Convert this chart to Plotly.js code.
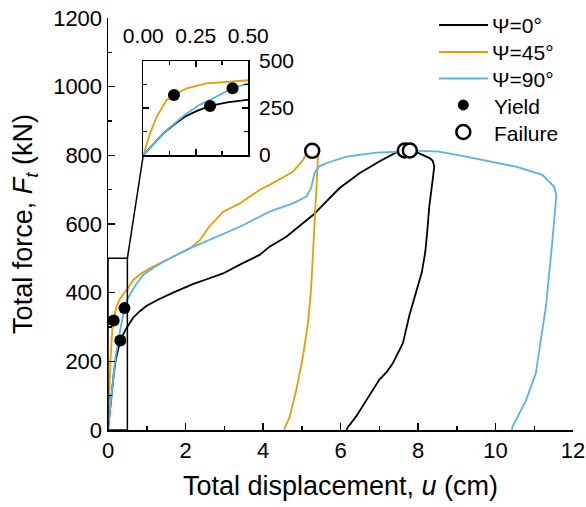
<!DOCTYPE html>
<html><head><meta charset="utf-8">
<script src="https://cdn.plot.ly/plotly-3.0.1.min.js"></script>
<style>html,body{margin:0;padding:0;background:#fff}</style>
</head><body><div id="chart" style="width:586px;height:507px"></div>
<script>
// ---- data ----
const seriesNames = ['Ψ=0°', 'Ψ=45°', 'Ψ=90°'];
const markerNames = ['Yield', 'Failure'];
const seriesColors = ['#000000', '#E69F00', '#56B4E9'];

const u0 = [0,0.05,0.1,0.15,0.2,0.25,0.318,0.4,0.5,0.65,0.82,1.0,1.3,1.68,2.19,2.62,2.97,3.48,3.91,4.17,4.6,5.29,5.97,6.49,7.0,7.43,7.66,7.85,8.0,8.12,8.3,8.38,8.42,8.38,8.34,8.29,8.24,8.19,8.1,8.0,7.9,7.78,7.61,7.45,7.35,7.2,7.0,6.67,6.4,6.19,6.15];
const f0 = [0,62,120,165,205,232,261,280,301,327,346,362,380,400,425,442,456,486,510,534,563,626,704,748,782,808,814,815,808,801,792,784,767,730,699,650,580,520,460,420,380,335,253,215,194,170,146,87,39,8,0];

const u45 = [0,0.032,0.064,0.111,0.146,0.207,0.3,0.4,0.5,0.65,0.85,1.08,1.51,2.11,2.37,2.61,2.97,3.4,3.91,4.17,4.77,5.03,5.12,5.27,5.42,5.4,5.37,5.33,5.29,5.24,5.16,5.03,4.86,4.69,4.56,4.55];
const f45 = [0,115,204,293,319,355,381,395,411,437,455,471,495,529,553,592,636,660,699,714,752,786,806,813,796,750,699,621,524,408,311,214,117,39,5,0];

const u90 = [0,0.05,0.1,0.15,0.2,0.27,0.318,0.425,0.5,0.7,0.9,1.2,1.51,2.11,2.8,3.4,3.91,4.17,4.77,5.12,5.24,5.33,5.45,5.63,6.15,6.92,7.52,7.79,8.04,8.55,9.24,9.9,10.53,11.21,11.51,11.57,11.53,11.47,11.30,11.04,10.79,10.44,10.42];
const f90 = [0,62,120,168,215,268,293,355,381,420,451,475,495,529,563,592,621,636,660,680,704,748,768,777,796,808,811,814,813,811,796,782,767,743,709,684,620,553,359,165,87,10,0];

const yieldU = [0.318, 0.146, 0.425];
const yieldF = [261, 319, 355];
const failU = [7.66, 5.27, 7.79];
const failF = [814, 813, 814];

const xTitle = 'Total displacement, <i>u</i> (cm)';
const yTitle = 'Total force, <i>F</i><sub><i>t</i></sub> (kN)';
const zoomBox = {u: 0.5, f: 500};

// ---- layout helpers ----
const FONT = 'Arial, "Liberation Sans", sans-serif';
const W = 586, H = 507, ML = 108, MR = 13, MT = 18, MB = 77;
const PW = W - ML - MR, PH = H - MT - MB;
const px2x = p => (p - ML) / PW;
const px2y = p => (H - MB - p) / PH;
const insetX = [px2x(143.3), px2x(248.3)];
const insetY = [px2y(155), px2y(61)];

const us = [u0, u45, u90], fs = [f0, f45, f90];
const traces = [];
for (let i = 0; i < 3; i++) {
  traces.push({x: us[i], y: fs[i], type: 'scatter', mode: 'lines', name: seriesNames[i],
    line: {color: seriesColors[i], width: 1.8}, xaxis: 'x', yaxis: 'y'});
}
for (let i = 0; i < 3; i++) {
  traces.push({x: us[i], y: fs[i], type: 'scatter', mode: 'lines', name: seriesNames[i],
    line: {color: seriesColors[i], width: 1.8}, xaxis: 'x2', yaxis: 'y2'});
}
traces.push({x: yieldU, y: yieldF, type: 'scatter', mode: 'markers', name: markerNames[0],
  marker: {color: '#000', size: 12}, xaxis: 'x', yaxis: 'y'});
traces.push({x: failU, y: failF, type: 'scatter', mode: 'markers', name: markerNames[1],
  marker: {color: '#fff', size: 14, line: {color: '#000', width: 2.5}}, xaxis: 'x', yaxis: 'y'});
traces.push({x: yieldU, y: yieldF, type: 'scatter', mode: 'markers', name: markerNames[0],
  marker: {color: '#000', size: 12}, xaxis: 'x2', yaxis: 'y2'});

const axCommon = {showgrid: false, zeroline: false, showline: true, linecolor: '#000', linewidth: 1.5,
  ticks: 'inside', tickcolor: '#000', tickwidth: 1.5, ticklen: 7};

// ---- hand-built legend (lines, dot, ring, labels) ----
const legRows = [25, 52, 78.5, 105, 132];
const shapes = [
  {type: 'rect', xref: 'x', yref: 'y', x0: 0, x1: zoomBox.u, y0: 0, y1: zoomBox.f,
    line: {color: '#000', width: 1.5}},
  {type: 'line', xref: 'x', yref: 'y', x0: zoomBox.u, y0: zoomBox.f,
    x1: insetX[0] * 12, y1: insetY[0] * 1200, line: {color: '#000', width: 1.5}}
];
const annotations = [];
for (let i = 0; i < 3; i++) {
  shapes.push({type: 'line', xref: 'paper', yref: 'paper', x0: px2x(439), x1: px2x(488),
    y0: px2y(legRows[i]), y1: px2y(legRows[i]), line: {color: seriesColors[i], width: 1.8}});
  annotations.push({xref: 'paper', yref: 'paper', x: px2x(490), y: px2y(legRows[i] + 1),
    xanchor: 'left', yanchor: 'middle', showarrow: false, text: seriesNames[i],
    font: {size: 21, family: FONT, color: '#000'}});
}
const lx = px2x(463.3);
shapes.push({type: 'circle', xref: 'paper', yref: 'paper', xsizemode: 'pixel', ysizemode: 'pixel',
  xanchor: lx, yanchor: px2y(legRows[3]), x0: -5, x1: 5, y0: -5, y1: 5,
  fillcolor: '#000', line: {color: '#000', width: 1}});
shapes.push({type: 'circle', xref: 'paper', yref: 'paper', xsizemode: 'pixel', ysizemode: 'pixel',
  xanchor: lx, yanchor: px2y(legRows[4]), x0: -7, x1: 7, y0: -7, y1: 7,
  fillcolor: '#fff', line: {color: '#000', width: 2.5}});
for (let j = 0; j < 2; j++) {
  annotations.push({xref: 'paper', yref: 'paper', x: px2x(491.5), y: px2y(legRows[3 + j] + 1),
    xanchor: 'left', yanchor: 'middle', showarrow: false, text: markerNames[j],
    font: {size: 21, family: FONT, color: '#000'}});
}

const layout = {
  width: W, height: H,
  margin: {l: ML, r: MR, t: MT, b: MB},
  paper_bgcolor: '#fff', plot_bgcolor: 'rgba(0,0,0,0)',
  font: {family: FONT, color: '#000', size: 22},
  showlegend: false,
  xaxis: Object.assign({}, axCommon, {range: [0, 12], dtick: 2, tick0: 0, domain: [0, 1],
    tickfont: {size: 22}, minor: {dtick: 1, ticks: 'inside', ticklen: 4, tickwidth: 1.5, tickcolor: '#000'},
    title: {text: xTitle, font: {size: 27}, standoff: 14}}),
  yaxis: Object.assign({}, axCommon, {range: [0, 1200], dtick: 200, tick0: 0, domain: [0, 1],
    tickfont: {size: 22}, minor: {dtick: 100, ticks: 'inside', ticklen: 4, tickwidth: 1.5, tickcolor: '#000'},
    title: {text: yTitle, font: {size: 27}, standoff: 12}}),
  xaxis2: Object.assign({}, axCommon, {range: [0, 0.5], dtick: 0.25, tick0: 0, tickformat: '.2f',
    domain: insetX, anchor: 'y2', side: 'top', mirror: 'allticks', ticklen: 6, ticklabelstandoff: 8,
    tickfont: {size: 21}, minor: {dtick: 0.125, ticks: 'inside', ticklen: 4, tickwidth: 1.5, tickcolor: '#000'}}),
  yaxis2: Object.assign({}, axCommon, {range: [0, 500], dtick: 250, tick0: 0,
    domain: insetY, anchor: 'x2', side: 'right', mirror: 'allticks', ticklen: 6, ticklabelstandoff: 5,
    tickfont: {size: 21}, minor: {dtick: 125, ticks: 'inside', ticklen: 4, tickwidth: 1.5, tickcolor: '#000'}}),
  shapes: shapes,
  annotations: annotations
};

Plotly.newPlot('chart', traces, layout, {displayModeBar: false, staticPlot: true});
</script>
</body></html>
